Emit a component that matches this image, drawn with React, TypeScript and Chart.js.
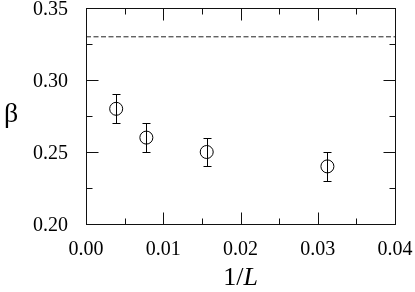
import React, { useEffect, useRef } from "react";
import { Chart, registerables } from "chart.js";

Chart.register(...registerables);

const invL: number[] = [1 / 256, 1 / 128, 1 / 64, 1 / 32];
const betaValues: number[] = [0.28, 0.26, 0.25, 0.24];
const betaErrors: number[] = [0.01, 0.01, 0.01, 0.01];
const referenceBeta: number = 0.33;
const xTicks: number[] = [0, 0.01, 0.02, 0.03, 0.04];
const xMinorTicks: number[] = [0.005, 0.015, 0.025, 0.035];
const yTicks: number[] = [0.2, 0.25, 0.3, 0.35];
const yMinorTicks: number[] = [0.225, 0.275, 0.325];

const SERIF = "'Liberation Serif', serif";
Chart.defaults.font.family = SERIF;

const framePlugin = {
  id: "frameTicks",
  afterDraw(chart: any) {
    const { ctx, chartArea, scales } = chart;
    const xs = scales.x;
    const ys = scales.y;
    const L = Math.round(chartArea.left) + 0.5;
    const R = Math.round(chartArea.right) + 0.5;
    const T = Math.round(chartArea.top) + 0.5;
    const B = Math.round(chartArea.bottom) + 0.5;
    ctx.save();
    ctx.strokeStyle = "#111";
    ctx.lineWidth = 1;
    ctx.strokeRect(L, T, R - L, B - T);
    ctx.beginPath();
    const xt = (v: number, len: number) => {
      const px = Math.round(xs.getPixelForValue(v)) + 0.5;
      ctx.moveTo(px, B);
      ctx.lineTo(px, B - len);
      ctx.moveTo(px, T);
      ctx.lineTo(px, T + len);
    };
    const yt = (v: number, len: number) => {
      const py = Math.round(ys.getPixelForValue(v)) + 0.5;
      ctx.moveTo(L, py);
      ctx.lineTo(L + len, py);
      ctx.moveTo(R, py);
      ctx.lineTo(R - len, py);
    };
    xTicks.forEach((v) => xt(v, 12));
    xMinorTicks.forEach((v) => xt(v, 6));
    yTicks.forEach((v) => yt(v, 12));
    yMinorTicks.forEach((v) => yt(v, 6));
    ctx.stroke();

    ctx.fillStyle = "#000";
    ctx.textBaseline = "alphabetic";
    ctx.font = `26px ${SERIF}`;
    const a = "1/";
    const wa = ctx.measureText(a).width;
    ctx.font = `italic 26px ${SERIF}`;
    const wb = ctx.measureText("L").width;
    const cx = (chartArea.left + chartArea.right) / 2;
    const startX = cx - (wa + wb) / 2;
    const baseY = 285;
    ctx.font = `26px ${SERIF}`;
    ctx.textAlign = "left";
    ctx.fillText(a, startX, baseY);
    ctx.font = `italic 26px ${SERIF}`;
    ctx.fillText("L", startX + wa, baseY);

    ctx.font = `28px ${SERIF}`;
    ctx.textAlign = "left";
    ctx.fillText("β", 4, 122);
    ctx.restore();
  },
};

const errorBarPlugin = {
  id: "errorBars",
  beforeDatasetsDraw(chart: any) {
    const { ctx, scales } = chart;
    ctx.save();
    ctx.strokeStyle = "#000";
    ctx.lineWidth = 1;
    ctx.beginPath();
    invL.forEach((x, i) => {
      const px = Math.round(scales.x.getPixelForValue(x)) + 0.5;
      const top = Math.round(scales.y.getPixelForValue(betaValues[i] + betaErrors[i])) + 0.5;
      const bot = Math.round(scales.y.getPixelForValue(betaValues[i] - betaErrors[i])) + 0.5;
      ctx.moveTo(px, top);
      ctx.lineTo(px, bot);
      ctx.moveTo(px - 4, top);
      ctx.lineTo(px + 4, top);
      ctx.moveTo(px - 4, bot);
      ctx.lineTo(px + 4, bot);
    });
    ctx.stroke();
    ctx.restore();
  },
};

export default function App() {
  const ref = useRef<HTMLCanvasElement | null>(null);
  useEffect(() => {
    if (!ref.current) return;
    const chart = new Chart(ref.current, {
      type: "scatter",
      data: {
        datasets: [
          {
            type: "line",
            data: [
              { x: 0, y: referenceBeta },
              { x: 0.04, y: referenceBeta },
            ],
            borderColor: "#222",
            borderWidth: 1,
            borderDash: [5, 2.5],
            pointRadius: 0,
            fill: false,
          } as any,
          {
            data: invL.map((x, i) => ({ x, y: betaValues[i] })),
            pointRadius: 6.5,
            pointBorderColor: "#000",
            pointBackgroundColor: "rgba(255,255,255,0)",
            pointBorderWidth: 1,
            showLine: false,
          } as any,
        ],
      },
      options: {
        animation: false,
        responsive: true,
        maintainAspectRatio: false,
        layout: { padding: { top: 8, right: 20, left: 0, bottom: 0 } },
        plugins: { legend: { display: false }, tooltip: { enabled: false } },
        scales: {
          x: {
            type: "linear",
            min: 0,
            max: 0.04,
            afterBuildTicks: (s: any) => {
              s.ticks = xTicks.map((v) => ({ value: v }));
            },
            afterFit: (s: any) => {
              s.height = 68;
              s.paddingLeft = 0;
              s.paddingRight = 0;
            },
            ticks: {
              color: "#000",
              font: { family: SERIF, size: 20 },
              padding: 6,
              maxRotation: 0,
              callback: (v: any) => Number(v).toFixed(2),
            },
            grid: { display: false },
            border: { display: false },
          },
          y: {
            type: "linear",
            min: 0.2,
            max: 0.35,
            afterBuildTicks: (s: any) => {
              s.ticks = yTicks.map((v) => ({ value: v }));
            },
            afterFit: (s: any) => {
              s.width = 86;
              s.paddingTop = 0;
              s.paddingBottom = 0;
            },
            ticks: {
              color: "#000",
              font: { family: SERIF, size: 20 },
              padding: 10,
              labelOffset: 2,
              callback: (v: any) => Number(v).toFixed(2),
            },
            grid: { display: false },
            border: { display: false },
          },
        },
      } as any,
      plugins: [errorBarPlugin, framePlugin],
    });
    return () => chart.destroy();
  }, []);
  return (
    <div style={{ position: "fixed", left: 0, top: 0, width: 415, height: 292, background: "#fff" }}>
      <canvas ref={ref} />
    </div>
  );
}
